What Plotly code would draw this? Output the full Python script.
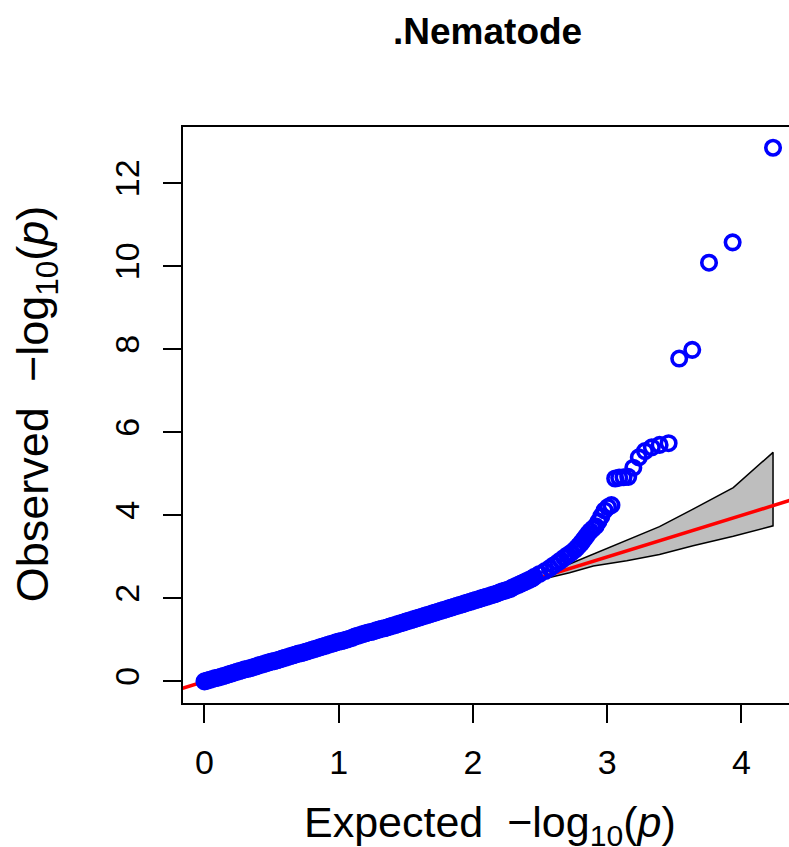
import plotly.graph_objects as go

# Top-ranked points (expected -log10 p, observed -log10 p)
expected_top = [4.236, 3.935, 3.759, 3.634, 3.537, 3.458, 3.391, 3.333, 3.282, 3.236,
                3.195, 3.157, 3.122, 3.090, 3.060, 3.032, 3.006, 2.981, 2.957, 2.935,
                2.914, 2.894, 2.874, 2.856, 2.838, 2.821, 2.805, 2.789, 2.774, 2.759,
                2.731, 2.705, 2.680, 2.656, 2.634, 2.603, 2.573, 2.537, 2.496, 2.458]
observed_top = [12.86, 10.58, 10.09, 7.99, 7.78, 5.74, 5.70, 5.64, 5.55, 5.40,
                5.15, 4.93, 4.92, 4.91, 4.89, 4.25, 4.20, 4.12, 3.98, 3.85,
                3.74, 3.68, 3.62, 3.55, 3.47, 3.40, 3.33, 3.27, 3.22, 3.17,
                3.10, 3.04, 2.98, 2.92, 2.87, 2.80, 2.73, 2.66, 2.59, 2.52]

# Dense bulk of points along the diagonal
expected_band = [0.00, 0.02, 0.04, 0.06, 0.08, 0.10, 0.12, 0.14, 0.16, 0.18,
                 0.20, 0.22, 0.24, 0.26, 0.28, 0.30, 0.32, 0.34, 0.36, 0.38,
                 0.40, 0.42, 0.44, 0.46, 0.48, 0.50, 0.52, 0.54, 0.56, 0.58,
                 0.60, 0.62, 0.64, 0.66, 0.68, 0.70, 0.72, 0.74, 0.76, 0.78,
                 0.80, 0.82, 0.84, 0.86, 0.88, 0.90, 0.92, 0.94, 0.96, 0.98,
                 1.00, 1.02, 1.04, 1.06, 1.08, 1.10, 1.12, 1.14, 1.16, 1.18,
                 1.20, 1.22, 1.24, 1.26, 1.28, 1.30, 1.32, 1.34, 1.36, 1.38,
                 1.40, 1.42, 1.44, 1.46, 1.48, 1.50, 1.52, 1.54, 1.56, 1.58,
                 1.60, 1.62, 1.64, 1.66, 1.68, 1.70, 1.72, 1.74, 1.76, 1.78,
                 1.80, 1.82, 1.84, 1.86, 1.88, 1.90, 1.92, 1.94, 1.96, 1.98,
                 2.00, 2.02, 2.04, 2.06, 2.08, 2.10, 2.12, 2.14, 2.16, 2.18,
                 2.20, 2.22, 2.24, 2.26, 2.28, 2.30, 2.32, 2.34, 2.36, 2.38,
                 2.40, 2.42, 2.44]
observed_band = [0.00, 0.02, 0.04, 0.06, 0.08, 0.09, 0.11, 0.13, 0.15, 0.17,
                 0.19, 0.21, 0.23, 0.25, 0.27, 0.29, 0.30, 0.32, 0.34, 0.36,
                 0.38, 0.40, 0.42, 0.44, 0.46, 0.48, 0.49, 0.51, 0.53, 0.55,
                 0.57, 0.59, 0.61, 0.63, 0.65, 0.67, 0.68, 0.70, 0.72, 0.74,
                 0.76, 0.78, 0.80, 0.82, 0.84, 0.86, 0.88, 0.90, 0.92, 0.94,
                 0.96, 0.97, 0.99, 1.01, 1.03, 1.05, 1.08, 1.10, 1.12, 1.14,
                 1.16, 1.18, 1.19, 1.21, 1.23, 1.25, 1.27, 1.28, 1.30, 1.32,
                 1.34, 1.36, 1.38, 1.40, 1.42, 1.44, 1.46, 1.48, 1.50, 1.52,
                 1.54, 1.56, 1.58, 1.60, 1.62, 1.64, 1.66, 1.68, 1.70, 1.72,
                 1.74, 1.76, 1.78, 1.80, 1.82, 1.84, 1.86, 1.88, 1.90, 1.92,
                 1.94, 1.96, 1.98, 2.00, 2.02, 2.04, 2.06, 2.08, 2.10, 2.12,
                 2.15, 2.17, 2.19, 2.21, 2.23, 2.27, 2.30, 2.33, 2.36, 2.39,
                 2.42, 2.45, 2.48]

# Confidence band
ci_x = [0.0, 1.0, 2.0, 2.5, 2.72, 2.897, 3.146, 3.39, 3.64, 3.94, 4.236]
ci_upper = [0.0, 1.02, 2.06, 2.62, 2.83, 3.07, 3.39, 3.73, 4.15, 4.67, 5.52]
ci_lower = [0.0, 0.98, 1.95, 2.45, 2.62, 2.78, 2.91, 3.06, 3.27, 3.50, 3.75]

# Reference line y = x
ref_x = [-0.5, 5.0]
ref_y = [-0.5, 5.0]

x_ticks = [0, 1, 2, 3, 4]
y_ticks = [0, 2, 4, 6, 8, 10, 12]

FONT = "Liberation Sans, Arial, Helvetica, sans-serif"

fig = go.Figure()

fig.add_trace(go.Scatter(
    x=ci_x + ci_x[::-1], y=ci_upper + ci_lower[::-1],
    mode="lines", fill="toself", fillcolor="#BEBEBE",
    line=dict(color="black", width=1.5), hoverinfo="skip", showlegend=False))

fig.add_trace(go.Scatter(
    x=ref_x, y=ref_y, mode="lines",
    line=dict(color="#FF0000", width=3.5), showlegend=False))

obs_x = expected_band + expected_top[::-1]
obs_y = observed_band + observed_top[::-1]
fig.add_trace(go.Scatter(
    x=obs_x, y=obs_y, mode="markers",
    marker=dict(symbol="circle-open", size=14.5, color="#0000FF",
                line=dict(width=3.6, color="#0000FF")),
    showlegend=False, cliponaxis=False))

fig.update_layout(
    width=789, height=847,
    margin=dict(l=183, r=0, t=127, b=144),
    paper_bgcolor="white", plot_bgcolor="white",
    font=dict(family=FONT, color="black"),
    xaxis=dict(range=[-0.16, 4.355], tickvals=x_ticks, ticks="outside",
               ticklen=18, tickwidth=2, tickcolor="black",
               showline=True, linecolor="black", linewidth=2, mirror=True,
               showgrid=False, zeroline=False,
               tickfont=dict(size=34, family=FONT), ticklabelstandoff=10),
    yaxis=dict(range=[-0.52, 13.36], tickvals=y_ticks, ticks="outside",
               ticklen=18, tickwidth=2, tickcolor="black",
               showline=True, linecolor="black", linewidth=2, mirror=False,
               showgrid=False, zeroline=False, tickangle=-90,
               tickfont=dict(size=34, family=FONT), ticklabelstandoff=10),
    annotations=[
        dict(text="<b>.Nematode</b>", x=0.503, y=1.165, xref="paper", yref="paper",
             showarrow=False, font=dict(size=37, family=FONT),
             xanchor="center", yanchor="middle"),
        dict(text="Expected  \u2212log<sub>10</sub>(<i>p</i>)", x=0.507, y=-0.212,
             xref="paper", yref="paper", showarrow=False,
             font=dict(size=43, family=FONT), xanchor="center", yanchor="middle"),
        dict(text="Observed  \u2212log<sub>10</sub>(<i>p</i>)", x=-0.243, y=0.52,
             xref="paper", yref="paper", showarrow=False, textangle=-90,
             font=dict(size=45, family=FONT), xanchor="center", yanchor="middle"),
    ],
)

fig.write_html(
    "out.html",
    config={"displayModeBar": False},
    post_script="document.body.style.margin='0';document.body.style.overflow='hidden';")
